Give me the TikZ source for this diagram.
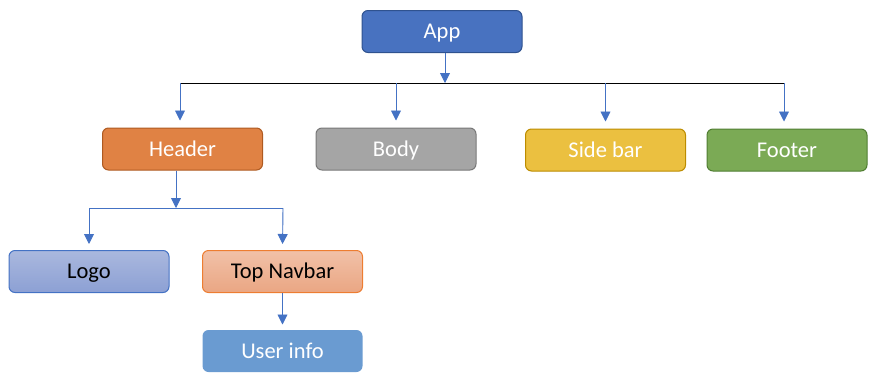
\documentclass[tikz,border=0pt]{standalone}
\usepackage{fontspec}
\setmainfont{Carlito}
\usetikzlibrary{arrows.meta}
\definecolor{appfill}{RGB}{72,114,192}
\definecolor{appedge}{RGB}{47,82,143}
\definecolor{headerfill}{RGB}{224,130,68}
\definecolor{headeredge}{RGB}{174,90,33}
\definecolor{bodyfill}{RGB}{165,165,165}
\definecolor{bodyedge}{RGB}{120,120,120}
\definecolor{sidefill}{RGB}{235,192,64}
\definecolor{sideedge}{RGB}{188,140,0}
\definecolor{footfill}{RGB}{123,170,85}
\definecolor{footedge}{RGB}{80,126,50}
\definecolor{logotop}{RGB}{170,184,222}
\definecolor{logobot}{RGB}{140,160,212}
\definecolor{navtop}{RGB}{241,193,168}
\definecolor{navbot}{RGB}{234,166,131}
\definecolor{navedge}{RGB}{237,125,49}
\definecolor{userfill}{RGB}{106,155,209}
\definecolor{linkblue}{RGB}{68,114,196}

\begin{document}
\begin{tikzpicture}[
  x=1pt, y=-1pt,
  font=\fontsize{22.5}{26}\selectfont,
  box/.style={draw, rounded corners=6pt, line width=1pt, text=white,
    minimum width=160pt, minimum height=42pt, inner sep=0pt,
    text height=14.5pt, text depth=0pt},
  arr/.style={-{Triangle[length=10pt, width=10pt]}, line width=0.9pt, draw=linkblue, fill=linkblue}
]
  \useasboundingbox (0,0) rectangle (876,381);
  \node[box, fill=appfill, draw=appedge] (app) at (442,31.5) {App};
  \node[box, fill=headerfill, draw=headeredge] (header) at (182.5,149) {Header};
  \node[box, fill=bodyfill, draw=bodyedge] (body) at (396,149) {Body};
  \node[box, fill=sidefill, draw=sideedge] (sidebar) at (605.5,150) {Side bar};
  \node[box, fill=footfill, draw=footedge] (footer) at (787,150) {Footer};
  \node[box, top color=logotop, bottom color=logobot, draw=linkblue, text=black] (logo) at (89,271.5) {Logo};
  \node[box, top color=navtop, bottom color=navbot, draw=navedge, text=black] (navbar) at (282.5,271.5) {Top Navbar};
  \node[box, fill=userfill, draw=none] (userinfo) at (282.5,351) {User info};

  % main bus
  \coordinate (busL) at (180,83);
  \coordinate (busR) at (784,83);
  \coordinate (busM) at (445,83);
  \draw[line width=1pt] (busL) -- (busR);
  \draw[arr] (app.south -| busM) -- (busM);
  \draw[arr, shorten >=7pt] (busL) -- (busL |- header.north);
  \draw[arr, shorten >=7pt] (body.north |- busM) -- (body.north);
  \draw[arr, shorten >=7pt] (sidebar.north |- busM) -- (sidebar.north);
  \draw[arr, shorten >=7pt] (busR) -- (busR |- footer.north);

  % header bus
  \coordinate (subL) at (89,208);
  \coordinate (subR) at (283,208);
  \coordinate (subM) at (176,208);
  \draw[line width=0.9pt, draw=linkblue] (subL) -- (subR);
  \draw[arr] (header.south -| subM) -- (subM);
  \draw[arr, shorten >=6pt] (subL) -- (logo.north);
  \draw[arr, shorten >=6pt] (subR) -- (navbar.north);
  \draw[arr, shorten >=5pt] (navbar) -- (userinfo);
\end{tikzpicture}
\end{document}
